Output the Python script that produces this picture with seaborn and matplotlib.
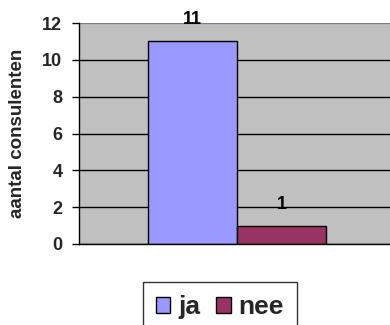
import seaborn as sns
import matplotlib.pyplot as plt
import pandas as pd

# data
answers = ['ja', 'nee']
counts = [11, 1]
colors = ['#9999FF', '#993366']

df = pd.DataFrame({'groep': [''] * len(answers), 'antwoord': answers, 'aantal': counts})

sns.set_style('white')
plt.rcParams['font.family'] = ['Liberation Sans', 'DejaVu Sans']
plt.rcParams['font.weight'] = 'bold'

fig = plt.figure(figsize=(3.9, 3.25), dpi=100)
ax = fig.add_axes([79 / 390, 81 / 325, 316 / 390, 221 / 325])
ax.set_facecolor('#C0C0C0')

sns.barplot(data=df, x='groep', y='aantal', hue='antwoord', palette=colors,
            width=0.563, edgecolor='black', linewidth=1, saturation=1, ax=ax)

ax.set_xlim(-0.5, 0.5)
ax.set_ylim(0, 12)
ax.set_yticks(range(0, 13, 2))
ax.set_xticks([])
ax.set_xlabel('')
ax.set_ylabel('aantal consulenten', fontsize=13.5, fontweight='bold')
ax.yaxis.set_label_coords(-0.168, 0.5)

# gridlines, the top one is gray like the plot border
ax.grid(axis='y', color='black', lw=1)
ax.set_axisbelow(True)
ax.yaxis.get_gridlines()[-1].set_color('#808080')

ax.tick_params(axis='y', direction='out', length=5, width=1, color='black',
               labelsize=13, pad=7, left=True)
for t in ax.get_yticklabels():
    t.set_fontweight('bold')

for side in ['top', 'right']:
    ax.spines[side].set_visible(False)
for side in ['left', 'bottom']:
    ax.spines[side].set_color('black')
    ax.spines[side].set_linewidth(1)

# value labels above the bars
for cont, pad in zip(ax.containers, [9.5, 9]):
    ax.bar_label(cont, padding=pad, fontsize=13, fontweight='bold', color='black')

ax.get_legend().remove()
handles = [plt.Rectangle((0, 0), 1, 1, facecolor=c, edgecolor='black', lw=1) for c in colors]
lgd = fig.legend(handles, answers, loc='upper center', bbox_to_anchor=(220 / 390, 43 / 325),
                 ncol=2, fontsize=19, frameon=True, fancybox=False, edgecolor='black',
                 handlelength=0.55, handleheight=0.55, handletextpad=0.3, columnspacing=0.6,
                 borderpad=0.5, borderaxespad=0)
lgd.get_frame().set_linewidth(1)
for t in lgd.get_texts():
    t.set_fontweight('bold')

plt.savefig('out.png', dpi=100)
